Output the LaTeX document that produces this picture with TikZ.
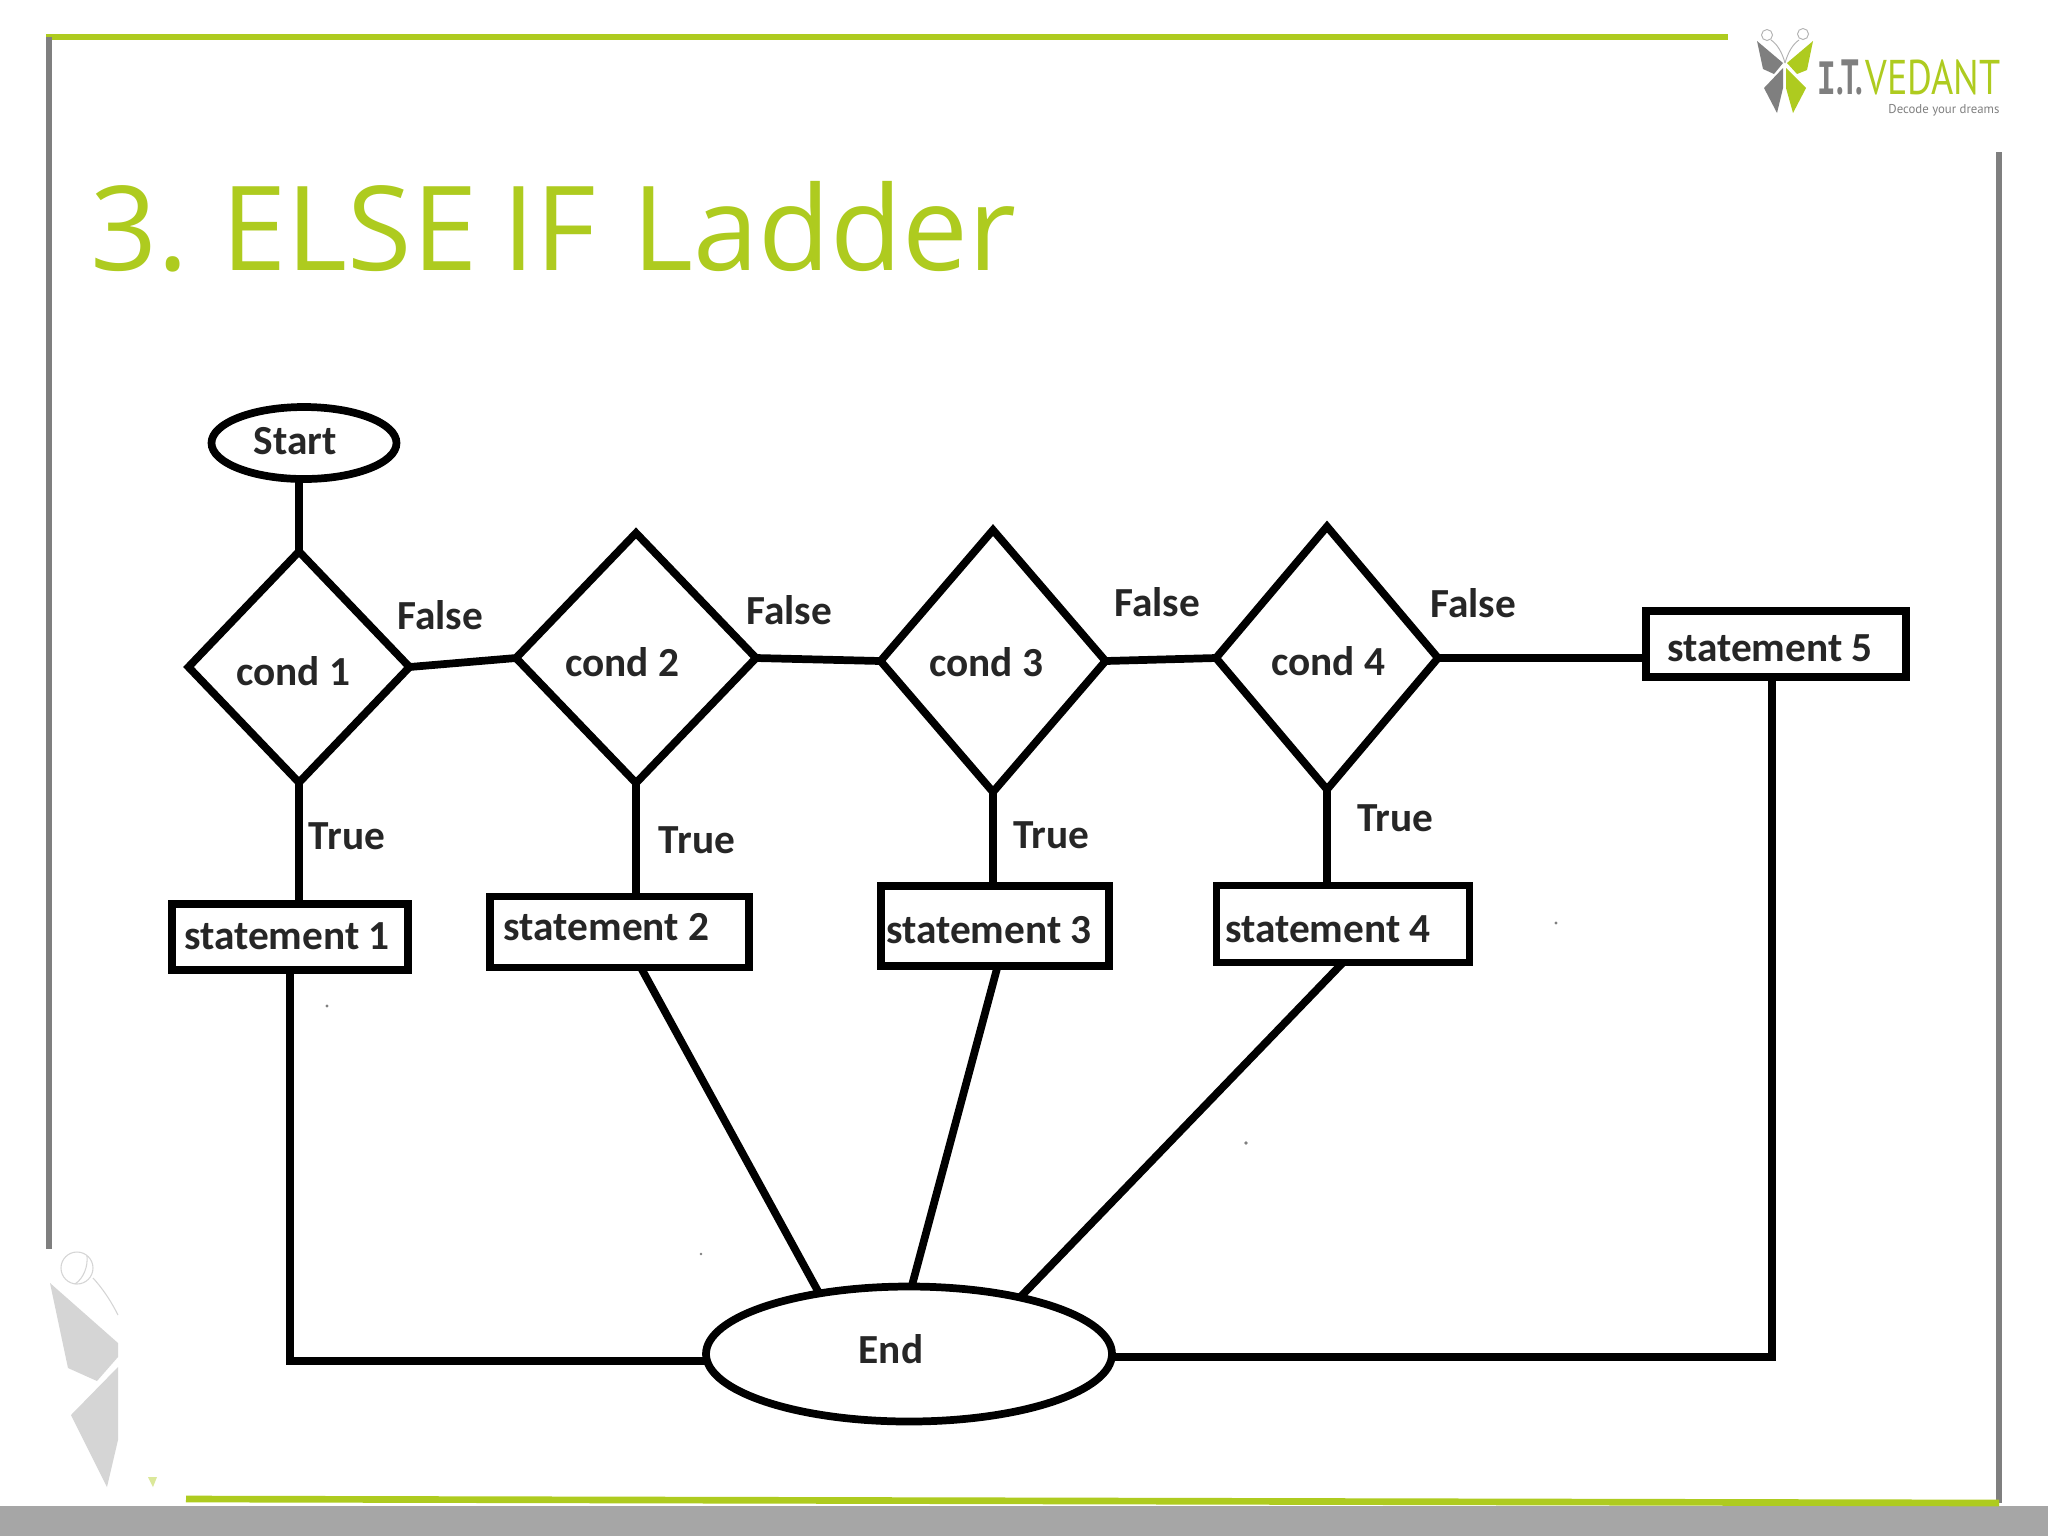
\documentclass[tikz,border=0pt]{standalone}
\usepackage{fontspec}
\usepackage{graphicx}
\setmainfont{Carlito}
\newfontfamily\titlefont{Open Sans}
\newfontfamily\logofont{PT Sans}
\newfontfamily\slabfont{Liberation Mono}
\usetikzlibrary{shapes.geometric,calc}
\definecolor{itgreen}{HTML}{AECB1F}
\definecolor{itgray}{HTML}{7F7F7F}
\definecolor{wmgray}{HTML}{D5D5D5}
\definecolor{footgray}{HTML}{A6A6A6}
\tikzset{
  flow/.style={draw=black,line width=2.9pt,fill=white,inner sep=0pt,outer sep=0pt},
  size/.style 2 args={minimum width=#1*0.375pt,minimum height=#2*0.375pt},
  cond/.style={flow,diamond},
  stmt/.style={flow,rectangle},
  term/.style={flow,ellipse},
  link/.style={draw=black,line width=2.9pt},
  lab/.style={font=\fontsize{15.5}{18}\selectfont\bfseries,inner sep=0pt,text=black!85},
  frameline/.style={line width=2.5pt,line cap=butt}
}
\begin{document}
\begin{tikzpicture}[x=0.375pt,y=-0.375pt]
\useasboundingbox (0,0) rectangle (2048,1536);
\fill[white] (0,0) rectangle (2048,1536);
% frame
\fill[footgray] (0,1506) rectangle (2048,1536);
\draw[frameline,itgreen] (46,37) -- (1728,37);
\draw[frameline,itgray] (49,37) -- (49,1249);
\draw[frameline,itgray] (1999,152) -- (1999,1503);
\draw[frameline,itgreen] (186,1499) -- (1999,1503);
% title
\node[anchor=base west,inner sep=0pt,text=itgreen,font=\titlefont\fontsize{44}{50}\selectfont] (title) at (90,270) {3. \kern-3pt ELSE \kern-2pt IF \kern2.4pt Ladder};
% logo
\fill[itgray] (1757,41) -- (1783,63) -- (1774,74) -- (1763,69) -- cycle;
\fill[itgreen] (1813,41) -- (1787,63) -- (1797,74) -- (1807,70) -- cycle;
\fill[itgray] (1783,68) -- (1764,88) -- (1777,113) -- (1783,88) -- cycle;
\fill[itgreen] (1786,68) -- (1806,88) -- (1793,113) -- (1786,88) -- cycle;
\draw[gray!60,line width=0.35pt] (1767,35) circle (5.5) (1803,34) circle (5.5);
\draw[gray!60,line width=0.35pt] (1785,63) .. controls (1782,52) and (1777,44) .. (1771,40);
\draw[gray!60,line width=0.35pt] (1785,63) .. controls (1788,52) and (1793,44) .. (1799,40);
\node[inner sep=0pt,text=itgray,anchor=west] (logoa) at (1817,77) {\resizebox{17.25pt}{13pt}{\logofont\bfseries{\slabfont I}.T.}};
\node[inner sep=0pt,text=itgreen,anchor=west] (logob) at (1865,77) {\resizebox{50.6pt}{13pt}{\logofont VEDANT}};
\node[inner sep=0pt,text=gray,anchor=east,font=\logofont\fontsize{4.8}{6}\selectfont] (logoc) at (2000,110) {Decode your dreams};
% watermark
\fill[wmgray] (50,1283) -- (118,1343) -- (118,1357) -- (97,1381) -- (68,1368) -- cycle;
\fill[wmgray] (118,1367) -- (71,1415) -- (107,1487) -- (118,1440) -- cycle;
\draw[wmgray,line width=0.4pt] (77,1268) circle (16);
\draw[wmgray,line width=0.4pt] (93,1278) .. controls (104,1290) and (112,1303) .. (118,1315);
\draw[wmgray,line width=0.4pt] (87,1256) .. controls (88,1266) and (84,1278) .. (75,1284);
\fill[itgreen!45] (148,1477) -- (157,1477) -- (153,1487) -- cycle;
% specks
\fill[gray] (327,1006) circle (1.6) (1556,923) circle (1.6) (1246,1143) circle (1.8) (701,1254) circle (1.4);
% nodes
\node[term,size={185}{72},label={[lab,shift={(-9,-2)}]center:Start}] (start) at (304,443) {};
\node[cond,size={221}{231},label={[lab,shift={(-6,4)}]center:cond 1}] (c1) at (299,667) {};
\node[cond,size={240}{250},label={[lab,shift={(-14,4)}]center:cond 2}] (c2) at (636,658) {};
\node[cond,size={225}{262},label={[lab,shift={(-7,1)}]center:cond 3}] (c3) at (993,661) {};
\node[cond,size={222}{263},label={[lab,shift={(1,3)}]center:cond 4}] (c4) at (1327,658) {};
\node[stmt,size={236}{66},label={[lab,shift={(-3,-1)}]center:statement 1}] (s1) at (290,937) {};
\node[stmt,size={259}{71},label={[lab,shift={(-13,-5)}]center:statement 2}] (s2) at (619.5,932) {};
\node[stmt,size={228}{80},label={[lab,shift={(-6,4)}]center:statement 3}] (s3) at (995,926) {};
\node[stmt,size={253}{77},label={[lab,shift={(-15,5)}]center:statement 4}] (s4) at (1343,924) {};
\node[stmt,size={260}{66},label={[lab,shift={(-6,4)}]center:statement 5}] (s5) at (1776,644) {};
\node[term,size={406}{135},label={[lab,shift={(-18,-5)}]center:End}] (end) at (909,1354) {};
% branch labels
\node[lab] (f1) at (440,615) {False};
\node[lab] (f2) at (789,610) {False};
\node[lab] (f3) at (1157,602) {False};
\node[lab] (f4) at (1473,603) {False};
\node[lab] (t1) at (347,836) {True};
\node[lab] (t2) at (697,840) {True};
\node[lab] (t3) at (1051,835) {True};
\node[lab] (t4) at (1395,818) {True};
% connectors
\draw[link] (start.south -| c1.north) -- (c1.north);
\draw[link] (c1.east) -- (c2.west);
\draw[link] (c2.east) -- (c3.west);
\draw[link] (c3.east) -- (c4.west);
\draw[link] (c4.east) -- (c4.east -| s5.west);
\draw[link] (c1.south) -- (c1.south |- s1.north);
\draw[link] (c2.south) -- (c2.south |- s2.north);
\draw[link] (c3.south) -- (c3.south |- s3.north);
\draw[link] (c4.south) -- (c4.south |- s4.north);
\draw[link,line join=miter] (s1.south) |- ([yshift=-2.6pt]end.west);
\draw[link] ([xshift=8pt]s2.south) -- (end.146);
\draw[link] ([xshift=1pt]s3.south) -- ([xshift=1pt]end.north);
\draw[link] (s4.south) -- (end.27);
\draw[link,line join=miter] ([xshift=-1.5pt]s5.south) |- ([yshift=-1pt]end.east);
\end{tikzpicture}
\end{document}
